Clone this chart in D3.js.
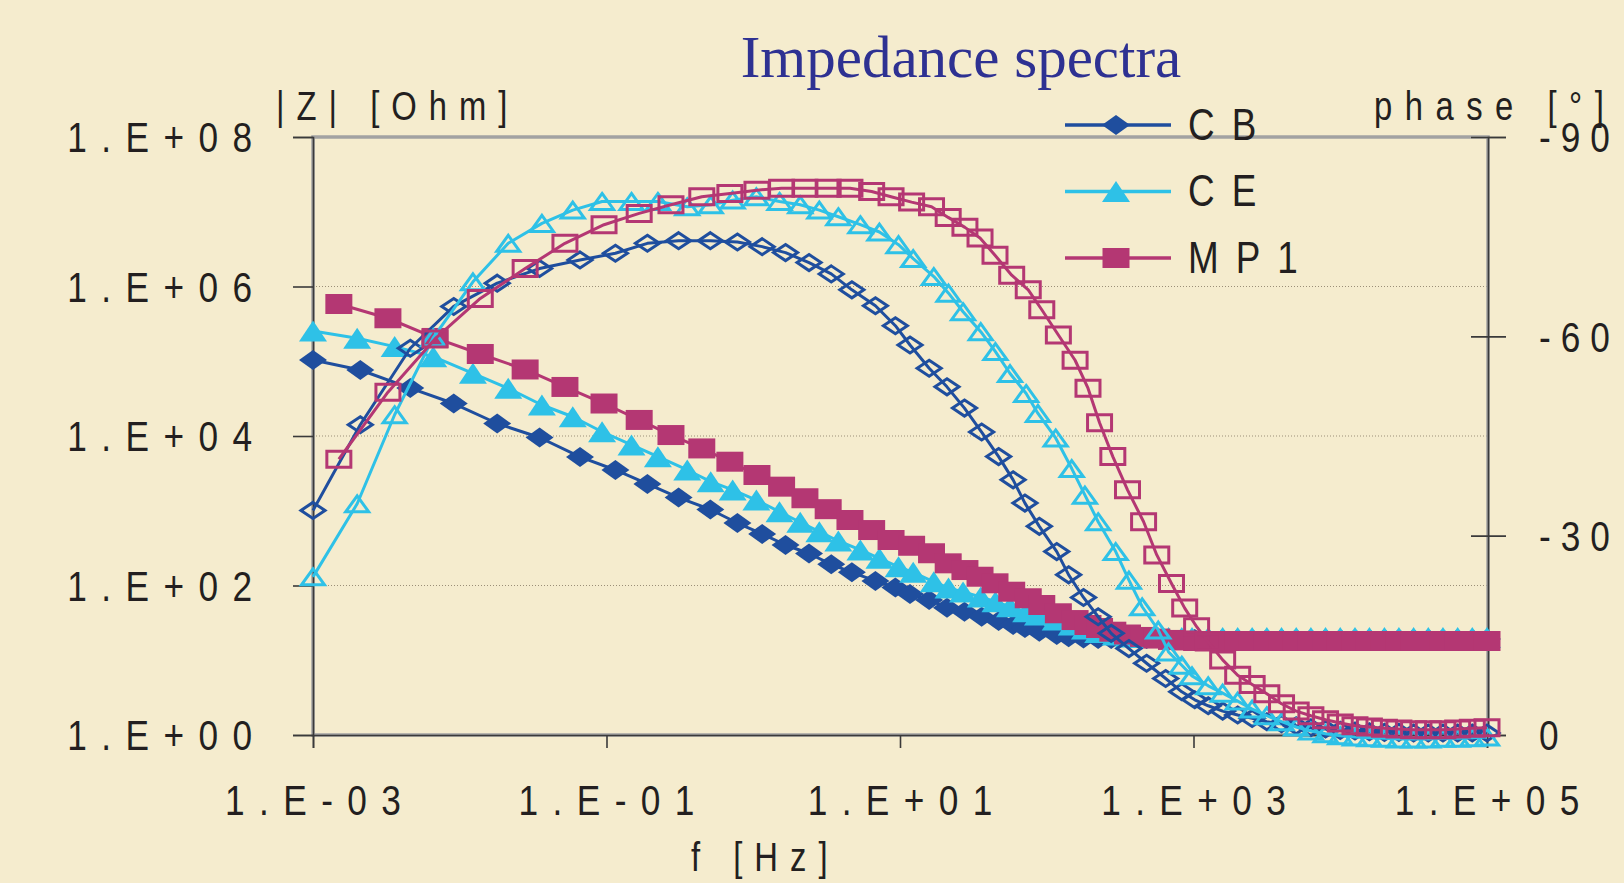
<!DOCTYPE html>
<html>
<head>
<meta charset="utf-8">
<title>Impedance spectra</title>
<script src="https://cdn.jsdelivr.net/npm/d3@7"></script>
<style>
  html, body { margin: 0; padding: 0; background: #f5ecce; }
  svg { display: block; }
</style>
</head>
<body>
<div id="chart"></div>
<script>
// impedance spectra - |Z| (filled) and phase (open) for three samples

// frequencies above 1 kHz, shared by all three samples
var fTail = [1260, 1580, 2000, 2510, 3160, 3980, 5010, 6310, 7940, 10000,
             12600, 15800, 20000, 25100, 31600, 39800, 50100, 63100, 79400, 100000];

// CB
var fCB = [0.001, 0.0021, 0.0046, 0.0091, 0.018, 0.035, 0.066, 0.115, 0.19, 0.31,
           0.51, 0.78, 1.15, 1.66, 2.4, 3.4, 4.7, 6.8, 9.3, 11.7,
           15.8, 20.9, 27.5, 36, 47, 59, 71, 89, 117, 141,
           178, 224, 275, 363, 479, 646, 832, 1020];
var zCB = [104000, 76400, 43700, 27200, 14700, 9550, 5250, 3510, 2280, 1500,
           1040, 685, 489, 348, 268, 192, 150, 115, 94, 76.9,
           64, 50.5, 44.7, 38.3, 33.5, 29.6, 27, 24.1, 21.8, 20.3,
           19.5, 19.2, 19.2, 19.2, 19.2, 19.2, 19.2, 19.2];
var zCBtail = [19.2, 19.2, 19.2, 19.2, 19.2, 19.2, 19.2, 19.2, 19.2, 19.2,
               19.2, 19.2, 19.2, 19.2, 19.2, 19.2, 19.2, 19.2, 19.2, 19.2];
var pCB = [-33.8, -46.7, -58.2, -64.5, -68.0, -70.2, -71.5, -72.5, -74.0, -74.4,
           -74.4, -74.2, -73.5, -72.6, -71.1, -69.4, -67.0, -64.6, -61.6, -58.7,
           -55.2, -52.4, -49.2, -45.6, -41.9, -38.4, -34.9, -31.4, -27.6, -24.1,
           -20.7, -17.8, -15.3, -13.0, -10.8, -8.5, -6.5, -5.3];
var pCBtail = [-4.4, -3.6, -3.0, -2.5, -2.0, -1.7, -1.4, -1.1, -0.9, -0.7,
               -0.6, -0.5, -0.4, -0.4, -0.3, -0.3, -0.3, -0.3, -0.3, -0.3];

// CE
var fCE = [0.001, 0.002, 0.0036, 0.0066, 0.0123, 0.0214, 0.0363, 0.0589, 0.0933, 0.148,
           0.224, 0.355, 0.513, 0.724, 1.05, 1.51, 2.09, 2.82, 3.8, 5.37,
           7.24, 9.77, 12.3, 17, 21.4, 26.9, 35.5, 44.7, 56.2, 72.4,
           87.1, 115, 148, 182, 224, 295, 363, 447, 575, 676,
           832, 977];
var zCE = [254000, 203000, 157000, 115000, 69000, 43500, 26000, 18100, 11400, 7590,
           5280, 3510, 2450, 1900, 1390, 970, 701, 525, 394, 299,
           231, 178, 150, 112, 92.7, 81.8, 70.1, 60.7, 52, 44.7,
           40.3, 34.5, 29.6, 26.2, 23.5, 21.8, 20.5, 20.1, 20.1, 20.1,
           20.1, 20.1];
var zCEtail = [20.1, 20.1, 20.1, 20.1, 20.1, 20.1, 20.1, 20.1, 20.1, 20.1,
               20.1, 20.1, 20.1, 20.1, 20.1, 20.1, 20.1, 20.1, 20.1, 20.1];
var pCE = [-23.8, -34.8, -48.2, -59.8, -68.2, -74.0, -77.0, -79.0, -80.3, -80.3,
           -80.3, -79.5, -79.8, -80.5, -81.0, -80.3, -79.8, -79.0, -78.0, -76.8,
           -75.7, -73.8, -71.7, -69.0, -66.5, -63.7, -60.7, -57.7, -54.4, -51.4,
           -48.4, -44.7, -40.1, -36.1, -32.1, -27.6, -23.3, -19.3, -15.8, -12.5,
           -10.5, -8.9];
var pCEtail = [-7.4, -6.3, -5.1, -3.9, -2.9, -2.0, -1.2, -0.6, -0.2, 0.1,
               0.3, 0.4, 0.5, 0.6, 0.6, 0.6, 0.5, 0.5, 0.4, 0.3];

// MP1
var fMP1 = [0.0015, 0.00324, 0.00678, 0.0138, 0.0279, 0.0521, 0.0962, 0.167, 0.275, 0.446,
            0.693, 1.06, 1.56, 2.25, 3.24, 4.56, 6.41, 8.69, 12, 16.4,
            21.3, 27.7, 35.1, 44.4, 57.7, 74.8, 92.5, 120, 156, 191,
            229, 282, 355, 457, 562, 708, 871, 1050];
var zMP1 = [583000, 376000, 205000, 125000, 77600, 45300, 27200, 16400, 10300, 6820,
            4530, 3010, 2100, 1470, 1050, 752, 552, 406, 340, 270,
            198, 161, 131, 107, 82.6, 67.5, 54.8, 42.5, 34.5, 29.6,
            27, 24.1, 22.1, 20.5, 19.5, 18.7, 18.4, 18.1];
var zMP1tail = [18.1, 18.1, 18.1, 18.1, 18.1, 18.1, 18.1, 18.1, 18.1, 18.1,
                18.1, 18.1, 18.1, 18.1, 18.1, 18.1, 18.1, 18.1, 18.1, 18.1];
var pMP1 = [-41.5, -51.6, -59.6, -65.7, -70.2, -74.0, -76.8, -78.5, -79.8, -81.0,
            -81.5, -82.0, -82.3, -82.3, -82.3, -82.3, -81.8, -81.0, -80.2, -79.5,
            -77.9, -76.4, -74.8, -72.2, -69.2, -67.0, -64.0, -60.2, -56.4, -52.2,
            -47.0, -41.9, -36.9, -32.1, -27.1, -22.8, -19.1, -16.3];
var pMP1tail = [-14.0, -11.3, -9.0, -7.6, -6.2, -4.7, -3.6, -2.9, -2.3, -1.8,
                -1.4, -1.2, -1.0, -0.9, -0.8, -0.8, -0.8, -0.9, -1.0, -1.1];

var xTicks = [1e-3, 1e-1, 1e1, 1e3, 1e5];
var zTicks = [1, 1e2, 1e4, 1e6, 1e8];
var pTicks = [0, -30, -60, -90];

var series = [
  {name: "CB",  color: "#1f4e9e", shape: "diamond",  f: fCB.concat(fTail),  z: zCB.concat(zCBtail),   p: pCB.concat(pCBtail)},
  {name: "CE",  color: "#2ec1e7", shape: "triangle", f: fCE.concat(fTail),  z: zCE.concat(zCEtail),   p: pCE.concat(pCEtail)},
  {name: "MP1", color: "#b43773", shape: "square",   f: fMP1.concat(fTail), z: zMP1.concat(zMP1tail), p: pMP1.concat(pMP1tail)}
];

var W = 1624, H = 883;
var X0 = 313, X1 = 1487, Y0 = 735, Y1 = 137;
var TEXT = "#231f20", AXIS = "#3a3a3a";

// pick the narrow face if it is there, otherwise squeeze the normal one
function hasFont(name) {
  var c = document.createElement("canvas").getContext("2d");
  var s = "1.E+08 MP1 phase wxyz";
  c.font = "40px monospace";
  var a = c.measureText(s).width;
  c.font = "40px '" + name + "', monospace";
  return c.measureText(s).width !== a;
}
var narrow = hasFont("Liberation Sans Narrow");
var FAMILY = narrow ? "'Liberation Sans Narrow'" : "'Liberation Sans', Arial, sans-serif";
var SX = narrow ? 1 : 0.82;

var svg = d3.select("#chart").append("svg")
  .attr("width", W)
  .attr("height", H);

svg.append("rect").attr("width", W).attr("height", H).attr("fill", "#f5ecce");

var x = d3.scaleLog().domain([1e-3, 1e5]).range([X0, X1]);
var yZ = d3.scaleLog().domain([1, 1e8]).range([Y0, Y1]);
var yP = d3.scaleLinear().domain([0, -90]).range([Y0, Y1]);

function label(parent, str, px, py, size, ls, anchor) {
  anchor = anchor || "start";
  var dx = anchor === "end" ? ls : (anchor === "middle" ? ls / 2 : 0);
  return parent.append("text")
    .attr("transform", "translate(" + (px + dx) + "," + py + ") scale(" + SX + ",1)")
    .attr("text-anchor", anchor)
    .style("font-family", FAMILY)
    .style("font-size", size + "px")
    .style("letter-spacing", (ls / SX) + "px")
    .attr("fill", TEXT)
    .text(str);
}

function expLabel(v) {
  var e = Math.round(Math.log10(v));
  return "1.E" + (e < 0 ? "-" : "+") + String(Math.abs(e)).padStart(2, "0");
}

// grid
svg.append("g").selectAll("line")
  .data(zTicks.slice(1, 4))
  .enter().append("line")
  .attr("x1", X0).attr("x2", X1)
  .attr("y1", function(d) { return yZ(d); })
  .attr("y2", function(d) { return yZ(d); })
  .attr("stroke", "#9b8f78")
  .attr("stroke-width", 1)
  .attr("stroke-dasharray", "1,2");

// plot frame
svg.append("rect")
  .attr("x", X0).attr("y", Y1)
  .attr("width", X1 - X0 + 1).attr("height", Y0 - Y1)
  .attr("fill", "none")
  .attr("stroke", "#a2a2a2")
  .attr("stroke-width", 3.5);

// axes
var gx = svg.append("g").attr("transform", "translate(0," + Y0 + ")")
  .call(d3.axisBottom(x).tickValues(xTicks).tickSize(13).tickFormat(""));
var gl = svg.append("g").attr("transform", "translate(" + X0 + ",0)")
  .call(d3.axisLeft(yZ).tickValues(zTicks).tickSize(20).tickFormat(""));
var gr = svg.append("g").attr("transform", "translate(" + (X1 + 1) + ",0)")
  .call(d3.axisRight(yP).tickValues(pTicks).tickSize(18).tickFormat(""));
gr.selectAll(".tick line").attr("x1", -17);

[gx, gl, gr].forEach(function(g) {
  g.select(".domain").attr("stroke", AXIS).attr("stroke-width", 1.6);
  g.selectAll(".tick line").attr("stroke", AXIS).attr("stroke-width", 1.6);
});

var labels = svg.append("g");
xTicks.forEach(function(v) { label(labels, expLabel(v), x(v), 815, 43, 14.4, "middle"); });
zTicks.forEach(function(v) { label(labels, expLabel(v), 252, yZ(v) + 15.4, 43, 14.4, "end"); });
pTicks.forEach(function(v) { label(labels, String(v), 1539, yP(v) + 15.4, 43, 10, "start"); });

// axis titles
label(labels, "|Z| [Ohm]", 276, 120, 40, 12, "start");
label(labels, "phase [°]", 1374, 120, 40, 12.5, "start");
label(labels, "f [Hz]", 691, 871, 40, 12, "start");

svg.append("text")
  .attr("x", 961).attr("y", 77)
  .attr("text-anchor", "middle")
  .style("font-family", "'Liberation Serif', 'Times New Roman', serif")
  .style("font-size", "59px")
  .attr("fill", "#2e3192")
  .text("Impedance spectra");

// markers (stretched sideways like the source)
function shapePath(shape, w, h) {
  if (shape === "diamond") return "M0," + (-h / 2) + "L" + (w / 2) + ",0L0," + (h / 2) + "L" + (-w / 2) + ",0Z";
  if (shape === "triangle") return "M0," + (-h / 2) + "L" + (w / 2) + "," + (h / 2) + "L" + (-w / 2) + "," + (h / 2) + "Z";
  return "M" + (-w / 2) + "," + (-h / 2) + "h" + w + "v" + h + "h" + (-w) + "Z";
}
var filledSize = {diamond: [28, 20], triangle: [28, 21], square: [27, 20]};
var openSize = {diamond: [24, 16], triangle: [23, 16], square: [24, 16]};

function drawSeries(s, key, yScale, open) {
  var pts = s.f.map(function(f, i) { return [x(f), yScale(s[key][i])]; });
  var g = svg.append("g").attr("class", "series " + s.name + "-" + key);

  g.append("path")
    .attr("d", d3.line()(pts))
    .attr("fill", "none")
    .attr("stroke", s.color)
    .attr("stroke-width", 3)
    .attr("stroke-linejoin", "round");

  var sz = open ? openSize[s.shape] : filledSize[s.shape];
  g.selectAll("path.m")
    .data(pts)
    .enter().append("path")
    .attr("class", "m")
    .attr("transform", function(d) { return "translate(" + d[0] + "," + d[1] + ")"; })
    .attr("d", shapePath(s.shape, sz[0], sz[1]))
    .attr("fill", open ? "none" : s.color)
    .attr("stroke", open ? s.color : "none")
    .attr("stroke-width", open ? 3 : 0)
    .attr("stroke-linejoin", "miter");
}

series.forEach(function(s) { drawSeries(s, "z", yZ, false); });
series.forEach(function(s) { drawSeries(s, "p", yP, true); });

// legend
var legendRows = [125, 191.5, 258];
var legend = svg.append("g");
series.forEach(function(s, i) {
  var ly = legendRows[i];
  legend.append("line")
    .attr("x1", 1065).attr("x2", 1171)
    .attr("y1", ly).attr("y2", ly)
    .attr("stroke", s.color).attr("stroke-width", 3.5);
  var sz = filledSize[s.shape];
  legend.append("path")
    .attr("transform", "translate(1116," + ly + ")")
    .attr("d", shapePath(s.shape, sz[0], sz[1]))
    .attr("fill", s.color);
  label(legend, s.name, 1188, ly + 14.5, 45, 17, "start");
});
</script>
</body>
</html>
